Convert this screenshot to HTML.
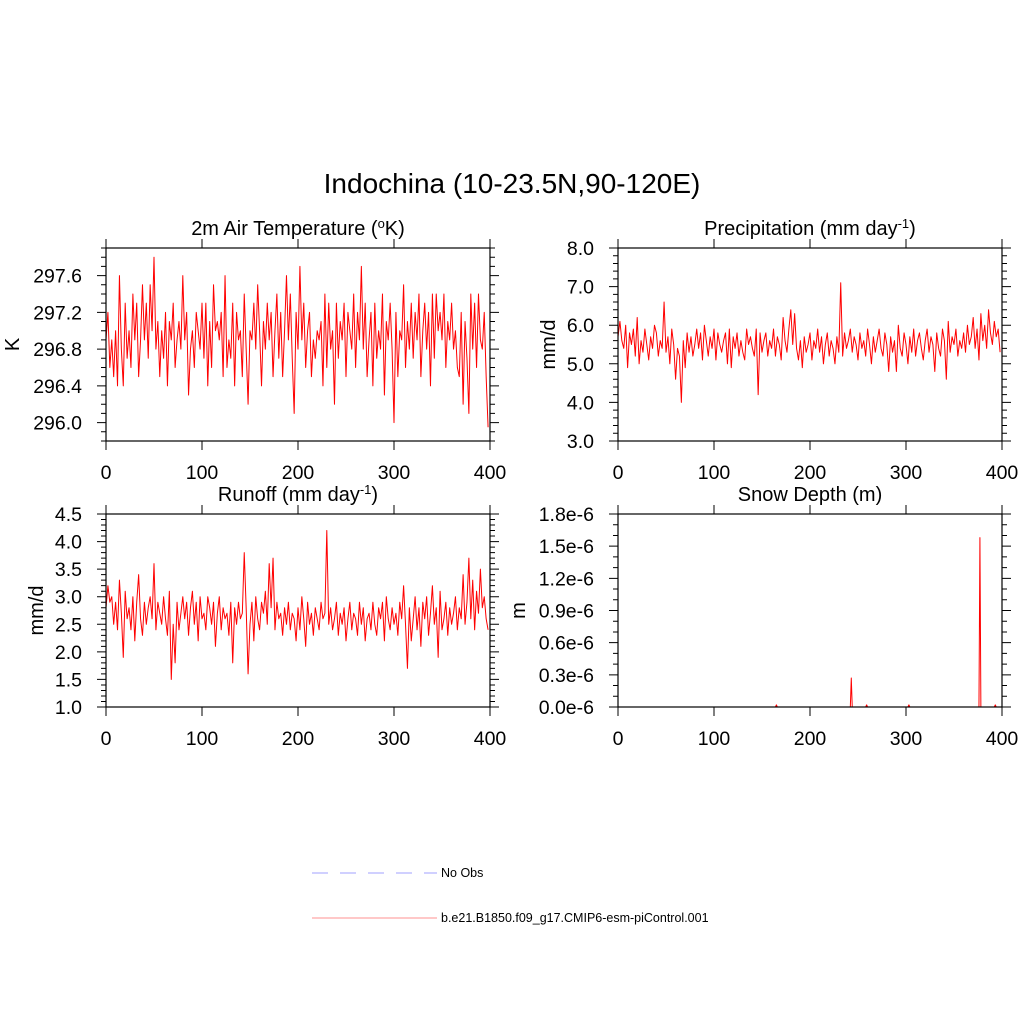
<!DOCTYPE html>
<html><head><meta charset="utf-8"><style>
body{margin:0;background:#fff;}
svg{display:block;font-family:"Liberation Sans",sans-serif;}
</style></head><body>
<svg id="c" width="1024" height="1024">
<text x="512" y="193" font-size="28" text-anchor="middle">Indochina (10-23.5N,90-120E)</text>
<g>
<line x1="312" y1="873" x2="437" y2="873" stroke="#a0a0ff" stroke-width="1" stroke-dasharray="16,12"/>
<text x="441" y="877" font-size="12.5">No Obs</text>
<line x1="312" y1="918" x2="437" y2="918" stroke="#ff9090" stroke-width="1"/>
<text x="441" y="922" font-size="12.5">b.e21.B1850.f09_g17.CMIP6-esm-piControl.001</text>
</g>
</svg>
<script>
const tempValues=[296.9,297.2,296.6,296.9,296.5,297.0,296.4,297.6,296.8,296.4,297.3,296.7,297.0,296.6,297.4,296.9,297.3,296.5,296.9,297.5,
296.9,297.3,296.7,297.5,297.0,297.8,296.8,297.1,296.5,297.0,296.7,297.2,296.4,297.1,296.9,297.3,296.6,296.9,297.1,296.8,
297.6,296.9,297.2,296.3,296.8,297.0,296.6,297.2,297.0,296.8,297.3,296.7,297.3,296.4,297.1,296.6,297.5,297.0,297.1,296.9,
297.2,296.5,297.6,296.6,296.9,296.7,297.3,296.4,297.2,296.9,297.0,296.5,297.4,296.8,296.2,297.0,296.9,297.3,296.8,297.5,
297.0,296.4,297.1,296.8,297.3,296.9,297.2,296.5,297.0,297.4,296.7,297.2,296.5,297.0,297.6,296.9,297.4,296.7,296.1,297.2,
296.8,297.7,296.9,297.3,296.6,297.0,297.2,296.5,296.9,296.7,297.0,296.9,297.1,296.4,297.4,296.6,297.3,296.8,297.0,296.2,
297.3,296.7,297.1,296.9,297.3,296.5,297.2,297.0,296.8,297.4,296.6,297.2,296.9,297.7,296.8,297.3,296.5,296.9,297.2,296.4,
297.3,296.7,297.0,296.8,297.4,296.3,297.1,296.9,297.3,296.8,296.0,297.2,296.5,297.0,296.9,297.5,296.6,297.1,296.8,297.3,
296.7,297.2,296.9,297.4,296.5,297.0,297.3,296.8,297.2,296.4,297.4,296.7,297.4,297.0,297.2,296.9,297.4,296.6,297.1,296.9,
297.3,296.8,297.0,296.6,296.5,297.2,296.2,297.1,296.7,296.1,297.4,296.8,297.3,296.6,297.4,296.9,296.8,297.2,296.5,295.95];
const precValues=[5.7,6.1,5.6,5.4,6.0,4.9,5.8,5.5,5.9,5.2,6.2,5.0,5.6,5.3,5.9,5.5,5.1,5.7,5.4,6.0,
5.8,5.2,5.6,5.4,6.6,5.3,5.7,5.0,5.9,5.5,4.6,5.4,5.2,4.0,5.6,4.9,5.8,5.3,5.7,5.2,
5.5,5.9,5.4,5.8,5.1,6.0,5.6,5.2,5.7,5.4,5.9,5.1,5.8,5.5,5.3,5.6,5.8,5.0,5.9,4.9,
5.7,5.4,5.8,5.2,5.6,5.3,5.1,5.9,5.5,5.7,5.4,5.2,5.9,4.2,5.8,5.3,5.6,5.8,5.2,5.6,
5.4,5.9,5.2,5.7,5.5,5.1,6.2,5.6,5.3,5.9,6.4,5.5,6.3,5.4,5.1,5.6,4.9,5.7,5.3,5.5,
5.8,5.1,5.6,5.4,5.9,5.3,5.7,5.0,5.5,5.8,5.2,5.6,5.4,5.0,5.7,5.3,7.1,5.2,5.8,5.4,
5.6,5.9,5.3,5.7,5.5,5.1,5.8,5.4,5.6,5.2,5.9,5.5,5.0,5.7,5.3,5.6,5.9,5.4,5.2,5.8,
5.5,4.8,5.7,5.3,5.6,4.8,6.0,5.4,5.2,5.8,5.5,5.0,5.7,5.3,5.9,5.2,5.6,5.8,5.4,5.1,
5.6,5.9,5.3,5.7,5.5,4.8,5.8,5.4,5.2,5.9,5.6,4.6,6.1,5.3,5.7,5.5,5.9,5.2,5.6,5.4,
5.8,5.3,6.0,5.5,5.7,6.2,5.4,5.9,5.1,6.3,5.6,6.0,5.4,6.4,5.8,5.5,6.1,5.7,5.9,5.3];
const runoffValues=[2.8,3.2,2.9,3.0,2.5,2.9,2.4,3.3,2.7,1.9,3.1,2.6,2.8,2.4,3.0,2.2,2.9,3.4,2.6,2.3,
2.9,2.5,2.8,3.0,2.6,3.6,2.4,2.9,2.7,2.5,3.0,2.6,2.3,3.1,1.5,2.5,1.8,2.9,2.4,2.7,
3.0,2.6,2.9,2.3,2.8,3.1,2.5,2.9,2.2,3.0,2.6,2.7,2.4,3.0,2.8,2.5,2.9,2.1,2.7,3.0,
2.4,2.8,2.6,2.7,2.3,2.9,1.8,2.8,2.5,2.9,2.6,2.7,3.8,2.8,1.6,2.5,2.9,2.2,3.0,2.6,
2.4,2.9,2.7,3.1,2.5,3.6,2.8,3.7,2.4,2.9,2.6,2.7,2.3,2.8,2.5,2.9,2.4,2.7,2.6,2.2,
2.8,2.4,3.0,2.6,2.1,2.9,2.5,2.7,2.3,2.8,2.6,2.4,2.9,2.6,2.7,4.2,2.5,2.8,2.4,2.6,
2.9,2.3,2.7,2.5,2.8,2.2,2.6,2.9,2.4,2.7,2.6,2.3,2.9,2.5,2.8,2.2,2.6,2.7,2.4,2.9,
2.5,2.3,2.8,2.6,2.9,2.2,3.0,2.6,2.4,2.8,2.5,2.7,2.3,2.9,2.6,3.2,2.5,1.7,2.8,2.2,
2.6,3.0,2.4,2.8,2.1,2.9,2.6,3.0,2.3,2.7,3.2,2.5,2.8,1.9,3.1,2.4,2.6,2.9,2.3,2.8,
2.5,2.7,3.0,2.4,2.8,2.6,3.4,2.5,2.9,3.7,2.6,3.3,2.4,3.1,2.7,3.5,2.8,3.0,2.6,2.4];
const yearStep=2;
const snowSpikeYears=[165,243,259,303,377,393];
const snowSpikeValues=[0.02e-6,0.27e-6,0.02e-6,0.02e-6,1.58e-6,0.02e-6];
const xTickLabels=["0","100","200","300","400"];
const tempTickLabels=["296.0","296.4","296.8","297.2","297.6"];
const precTickLabels=["3.0","4.0","5.0","6.0","7.0","8.0"];
const runoffTickLabels=["1.0","1.5","2.0","2.5","3.0","3.5","4.0","4.5"];
const snowTickLabels=["0.0e-6","0.3e-6","0.6e-6","0.9e-6","1.2e-6","1.5e-6","1.8e-6"];

const NS="http://www.w3.org/2000/svg";
const svg=document.getElementById('c');
function mk(tag,attrs,parent){const e=document.createElementNS(NS,tag);for(const k in attrs)e.setAttribute(k,attrs[k]);(parent||svg).appendChild(e);return e;}

function panel(o){
  const g=mk('g',{});
  
  
  const L=o.x,T=o.y,W=384,H=193;
  const sx=v=>L+v/400*W;
  const sy=v=>T+H-(v-o.ymin)/(o.ymax-o.ymin)*H;
  let d='';
  o.xs.forEach((x,i)=>{d+=(i?'L':'M')+sx(x).toFixed(2)+' '+sy(o.ys[i]).toFixed(2);});
  const p=mk('path',{d:d,fill:'none',stroke:'#ff0000','stroke-width':1,'stroke-linejoin':'round'},g);
  
  
  const fr=mk('rect',{x:L,y:T,width:W,height:H,fill:'none',stroke:'#000','stroke-width':1.2},g);
  
  
  let td='';
  xTickLabels.forEach((lab,i)=>{
    const v=i*100,X=sx(v);
    td+=`M${X} ${T+H}v9M${X} ${T}v-9`;
    const t=mk('text',{x:X,y:T+H+38,'font-size':19.5,'text-anchor':'middle'},g);t.textContent=lab;
    
    
  });
  o.labels.forEach((lab,i)=>{
    const v=o.tick0+i*o.tstep,Y=sy(v);
    td+=`M${L} ${Y}h-9M${L+W} ${Y}h9`;
    const t=mk('text',{x:L-24,y:Y+7,'font-size':19.5,'text-anchor':'end'},g);t.textContent=lab;
    
    
  });
  for(let v=o.ymin;v<=o.ymax+1e-12;v+=o.minor){const Y=sy(v);td+=`M${L} ${Y}h-5M${L+W} ${Y}h5`;}
  mk('path',{d:td,stroke:'#000','stroke-width':1,fill:'none'},g);
  const ti=mk('text',{x:L+W/2,y:T-13,'font-size':20,'text-anchor':'middle'},g);ti.innerHTML=o.title;
  
  
  const yl=mk('text',{x:o.ylx,y:T+H/2,'font-size':20,'text-anchor':'middle',transform:`rotate(-90 ${o.ylx} ${T+H/2})`},g);yl.textContent=o.ylabel;
  
  
}
const xs=tempValues.map((_,i)=>i*yearStep);
panel({name:'temperature-panel',x:106,y:248,xs:xs,ys:tempValues,ymin:295.8,ymax:297.9,tick0:296.0,tstep:0.4,minor:0.1,labels:tempTickLabels,
  title:'2m Air Temperature (<tspan baseline-shift="super" font-size="13">o</tspan>K)',ylabel:'K',ylx:19});
panel({name:'precipitation-panel',x:618,y:248,xs:xs,ys:precValues,ymin:3,ymax:8,tick0:3,tstep:1,minor:0.2,labels:precTickLabels,
  title:'Precipitation (mm day<tspan baseline-shift="super" font-size="13">-1</tspan>)',ylabel:'mm/d',ylx:555});
panel({name:'runoff-panel',x:106,y:514,xs:xs,ys:runoffValues,ymin:1,ymax:4.5,tick0:1,tstep:0.5,minor:0.1,labels:runoffTickLabels,
  title:'Runoff (mm day<tspan baseline-shift="super" font-size="13">-1</tspan>)',ylabel:'mm/d',ylx:43});
const snowX=[],snowY=[];
for(let y=0;y<400;y++){snowX.push(y);const k=snowSpikeYears.indexOf(y);snowY.push(k>=0?snowSpikeValues[k]:0);}
panel({name:'snow-depth-panel',x:618,y:514,xs:snowX,ys:snowY,ymin:0,ymax:1.8e-6,tick0:0,tstep:0.3e-6,minor:0.1e-6,labels:snowTickLabels,
  title:'Snow Depth (m)',ylabel:'m',ylx:525});
</script>
</body></html>
